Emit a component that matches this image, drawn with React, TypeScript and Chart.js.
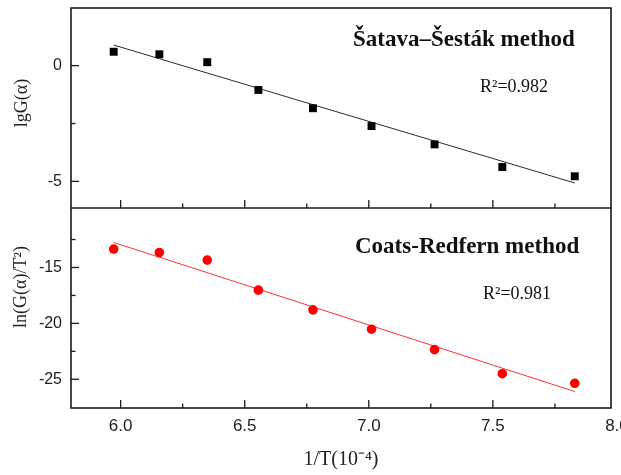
import React, { useEffect, useRef } from "react";
import { Chart, registerables } from "chart.js";

Chart.register(...registerables);

// ---- data ----
const xValues = [5.972, 6.156, 6.349, 6.555, 6.775, 7.011, 7.265, 7.538, 7.83];
const lgG = [0.6, 0.49, 0.15, -1.05, -1.84, -2.61, -3.4, -4.38, -4.78];
const lnGT2 = [-13.35, -13.66, -14.34, -17.03, -18.79, -20.52, -22.35, -24.5, -25.36];
const fitX = [5.972, 7.83];
const fitLgG = [0.89, -5.07];
const fitLnGT2 = [-12.76, -26.1];

const xTicks = [6.0, 6.5, 7.0, 7.5, 8.0];
const xMinorTicks = [6.25, 6.75, 7.25, 7.75];
const topTicks = [0, -5];
const topMinorTicks = [-2.5];
const bottomTicks = [-15, -20, -25];
const bottomMinorTicks = [-12.5, -17.5, -22.5];

const topLabel = "Šatava–Šesták method";
const bottomLabel = "Coats-Redfern method";
const topR2 = "R²=0.982";
const bottomR2 = "R²=0.981";
const topYTitle = "lgG(α)";
const bottomYTitle = "ln(G(α)/T²)";
const xTitle = "1/T(10⁻⁴)";

const SERIF = '"Liberation Serif", "Times New Roman", serif';
const SANS = '"Liberation Sans", Arial, sans-serif';

const framePlugin = {
  id: "framePlugin",
  afterDraw(chart: any) {
    const ctx = chart.ctx;
    const xs = chart.scales.x;
    const yT = chart.scales.yTop;
    const yB = chart.scales.yBottom;
    const L = chart.chartArea.left;
    const R = chart.chartArea.right;
    const top = yT.top;
    const mid = yT.bottom;
    const bot = yB.bottom;
    ctx.save();
    ctx.strokeStyle = "#1b1b1b";
    ctx.lineWidth = 1.6;
    ctx.strokeRect(L, top, R - L, bot - top);
    ctx.beginPath();
    ctx.moveTo(L, mid);
    ctx.lineTo(R, mid);
    ctx.stroke();

    ctx.lineWidth = 1.3;
    const vTick = (v: number, base: number, len: number) => {
      const px = xs.getPixelForValue(v);
      if (px < L - 0.5 || px > R + 0.5) return;
      ctx.beginPath();
      ctx.moveTo(px, base);
      ctx.lineTo(px, base - len);
      ctx.stroke();
    };
    for (const base of [mid, bot]) {
      xTicks.forEach((v) => vTick(v, base, 8));
      xMinorTicks.forEach((v) => vTick(v, base, 4.5));
    }
    const hTick = (scale: any, v: number, len: number) => {
      const py = scale.getPixelForValue(v);
      ctx.beginPath();
      ctx.moveTo(L, py);
      ctx.lineTo(L + len, py);
      ctx.stroke();
    };
    topTicks.forEach((v) => hTick(yT, v, 8));
    topMinorTicks.forEach((v) => hTick(yT, v, 4.5));
    bottomTicks.forEach((v) => hTick(yB, v, 8));
    bottomMinorTicks.forEach((v) => hTick(yB, v, 4.5));

    // annotations
    ctx.fillStyle = "#111";
    ctx.textAlign = "left";
    ctx.textBaseline = "alphabetic";
    ctx.font = `bold 23px ${SERIF}`;
    ctx.fillText(topLabel, L + 282, top + 38);
    ctx.fillText(bottomLabel, L + 284, mid + 45);
    ctx.font = `18px ${SERIF}`;
    ctx.fillText(topR2, L + 409, top + 84);
    ctx.fillText(bottomR2, L + 412, mid + 91);

    // y titles
    ctx.fillStyle = "#222";
    ctx.font = `18px ${SERIF}`;
    ctx.textAlign = "center";
    ctx.textBaseline = "middle";
    ctx.save();
    ctx.translate(22, 103);
    ctx.rotate(-Math.PI / 2);
    ctx.fillText(topYTitle, 0, 0);
    ctx.restore();
    ctx.save();
    ctx.translate(21, 287);
    ctx.rotate(-Math.PI / 2);
    ctx.fillText(bottomYTitle, 0, 0);
    ctx.restore();
    ctx.restore();
  },
};

export default function App() {
  const ref = useRef<HTMLCanvasElement | null>(null);
  useEffect(() => {
    if (!ref.current) return;
    const chart = new Chart(ref.current, {
      type: "scatter",
      data: {
        datasets: [
          {
            label: "lgG",
            data: xValues.map((x, i) => ({ x, y: lgG[i] })),
            yAxisID: "yTop",
            pointStyle: "rect",
            pointRadius: 5.6,
            backgroundColor: "#000",
            borderColor: "#000",
            borderWidth: 0,
            order: 0,
          },
          {
            label: "lgG fit",
            data: fitX.map((x, i) => ({ x, y: fitLgG[i] })),
            yAxisID: "yTop",
            showLine: true,
            borderColor: "#2a2a2a",
            borderWidth: 1,
            pointRadius: 0,
            order: 1,
          },
          {
            label: "ln",
            data: xValues.map((x, i) => ({ x, y: lnGT2[i] })),
            yAxisID: "yBottom",
            pointStyle: "circle",
            pointRadius: 4.8,
            backgroundColor: "#ff0000",
            borderColor: "#ff0000",
            borderWidth: 0,
            order: 0,
          },
          {
            label: "ln fit",
            data: fitX.map((x, i) => ({ x, y: fitLnGT2[i] })),
            yAxisID: "yBottom",
            showLine: true,
            borderColor: "#ff3030",
            borderWidth: 1,
            pointRadius: 0,
            order: 1,
          },
        ],
      },
      options: {
        responsive: false,
        animation: false,
        devicePixelRatio: 1,
        layout: { padding: { top: 8, right: 10, left: 0, bottom: 0 } },
        plugins: { legend: { display: false }, tooltip: { enabled: false } },
        scales: {
          x: {
            type: "linear",
            position: "bottom",
            min: 5.8,
            max: 7.976,
            grid: { display: false, drawTicks: false },
            border: { display: false },
            ticks: {
              autoSkip: false,
              maxRotation: 0,
              padding: 8,
              color: "#222",
              font: { family: SANS, size: 17 },
              callback: (v: any) => Number(v).toFixed(1),
            },
            afterBuildTicks: (s: any) => {
              s.ticks = xTicks.map((v) => ({ value: v }));
            },
            afterFit: (s: any) => {
              s.height = 67;
              s.paddingLeft = 0;
              s.paddingRight = 0;
            },
            title: {
              display: true,
              text: xTitle,
              color: "#222",
              font: { family: SERIF, size: 20 },
              padding: { top: 0, bottom: 3 },
            },
          },
          yTop: {
            type: "linear",
            position: "left",
            stack: "panels",
            stackWeight: 1,
            weight: 2,
            min: -6.15,
            max: 2.49,
            grid: { display: false, drawTicks: false },
            border: { display: false },
            ticks: {
              padding: 9,
              color: "#222",
              font: { family: SANS, size: 16 },
            },
            afterBuildTicks: (s: any) => {
              s.ticks = topTicks.map((v) => ({ value: v }));
            },
            afterFit: (s: any) => {
              s.width = 71;
              s.paddingTop = 0;
              s.paddingBottom = 0;
            },
          },
          yBottom: {
            type: "linear",
            position: "left",
            stack: "panels",
            stackWeight: 1,
            weight: 1,
            min: -27.57,
            max: -9.68,
            grid: { display: false, drawTicks: false },
            border: { display: false },
            ticks: {
              padding: 9,
              color: "#222",
              font: { family: SANS, size: 16 },
            },
            afterBuildTicks: (s: any) => {
              s.ticks = bottomTicks.map((v) => ({ value: v }));
            },
            afterFit: (s: any) => {
              s.width = 71;
              s.paddingTop = 0;
              s.paddingBottom = 0;
            },
          },
        },
      } as any,
      plugins: [framePlugin],
    });
    return () => chart.destroy();
  }, []);

  return (
    <div style={{ position: "fixed", left: 0, top: 0, width: 621, height: 475, background: "#fff" }}>
      <canvas ref={ref} width={621} height={475} style={{ width: 621, height: 475, display: "block" }} />
    </div>
  );
}
